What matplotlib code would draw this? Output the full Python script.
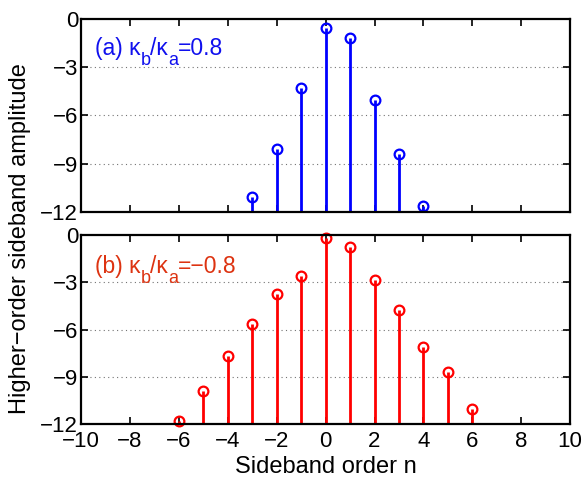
import numpy as np
import matplotlib
matplotlib.use("Agg")
import matplotlib.pyplot as plt
from matplotlib.transforms import IdentityTransform

plt.rcParams["font.family"] = ["Liberation Sans", "DejaVu Sans"]
plt.rcParams["axes.unicode_minus"] = True

# sideband amplitudes
n_a = [-3, -2, -1, 0, 1, 2, 3, 4]
amp_a = [-11.05, -8.08, -4.29, -0.56, -1.18, -5.04, -8.42, -11.63]

n_b = [-6, -5, -4, -3, -2, -1, 0, 1, 2, 3, 4, 5, 6]
amp_b = [-11.81, -9.90, -7.68, -5.64, -3.71, -2.59, -0.21, -0.76, -2.86, -4.77, -7.10, -8.67, -11.02]

xticks = list(range(-10, 11, 2))
yticks = [0, -3, -6, -9, -12]

fig = plt.figure(figsize=(5.83, 4.78), dpi=100)
ax1 = fig.add_axes([0.139, 0.5565, 0.839, 0.4038])
ax2 = fig.add_axes([0.139, 0.113, 0.839, 0.395])
renderer = fig.canvas.get_renderer()


def label(x, y, pieces, color):
    # piecewise text so the subscripts sit low and large
    for s, size, dy in pieces:
        t = fig.text(x, y - dy, s, transform=IdentityTransform(), fontsize=size,
                     color=color, va="baseline", ha="left")
        x = t.get_window_extent(renderer).x1


def draw(ax, n, amp, color):
    ml, sl, bl = ax.stem(n, amp, bottom=-12)
    plt.setp(sl, color=color, linewidth=2)
    plt.setp(ml, color=color, markerfacecolor="none", markersize=7, markeredgewidth=1.6)
    bl.set_visible(False)
    ml.set_clip_on(False)
    ax.set_xlim(-10, 10)
    ax.set_ylim(-12, 0)
    ax.set_xticks(xticks)
    ax.set_yticks(yticks)
    ax.set_yticklabels(["0", "\u22123", "\u22126", "\u22129", "\u221212"])
    for y in [-3, -6, -9]:
        ax.axhline(y, color="0.45", linestyle=(0, (1, 3)), linewidth=0.8, zorder=0)
    ax.tick_params(direction="in", top=True, right=True, length=5, width=1.2,
                   labelsize=16, pad=2)
    for s in ax.spines.values():
        s.set_linewidth(1.6)


draw(ax1, n_a, amp_a, "#0000ff")
draw(ax2, n_b, amp_b, "#ff0000")

label(95, 478 - 55, [("(a) \u03ba", 16.5, 0), ("b", 13, 10), ("/\u03ba", 16.5, 0),
                     ("a", 13, 10), ("=0.8", 16.5, 0)], "#1010ee")
label(95, 478 - 273, [("(b) \u03ba", 16.5, 0), ("b", 13, 10), ("/\u03ba", 16.5, 0),
                      ("a", 13, 10), ("=\u22120.8", 16.5, 0)], "#dd3311")

ax1.tick_params(labelbottom=False)
ax2.tick_params(axis="x", pad=5)
ax2.set_xticklabels([str(t).replace("-", "\u2212") for t in xticks])
ax2.set_xlabel("Sideband order n", fontsize=17, labelpad=3)
fig.text(0.035, 0.5, "Higher\u2212order sideband amplitude", rotation=90,
         fontsize=17, va="center", ha="center")

fig.savefig("out.png", dpi=100)
